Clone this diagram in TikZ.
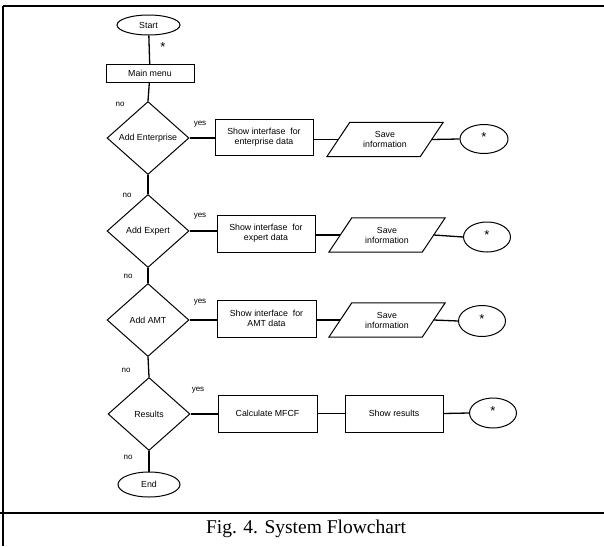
\documentclass[tikz,border=0pt]{standalone}
\usepackage{fontspec}
\setmainfont{Liberation Sans}
\newfontfamily\capfont{Liberation Serif}
\usetikzlibrary{shapes.geometric}
\begin{document}
\begin{tikzpicture}[x=1pt,y=-1pt,
  every node/.style={font=\fontsize{8.8}{10}\selectfont, align=center},
  line/.style={line width=1.3pt},
  term/.style={draw, line width=1pt, ellipse, inner sep=0pt},
  proc/.style={draw, line width=1pt, rectangle, inner sep=0pt},
  decide/.style={draw, line width=1pt, diamond, inner sep=0pt, shape aspect=1.13, minimum width=82pt, minimum height=73pt},
  iobox/.style={rectangle, inner sep=0pt, minimum width=93pt, minimum height=34pt},
  conn/.style={term, font=\fontsize{13}{13}\selectfont},
  lbl/.style={font=\fontsize{8}{9}\selectfont, inner sep=0pt},
  frame/.style={line width=2pt}
]
\useasboundingbox (0,0) rectangle (604,546);
% frame
\draw[frame] (3,6) -- (604,6);
\draw[frame] (3,6) -- (3,546);
\draw[frame] (0,513) -- (604,513);
\node[font=\capfont\fontsize{19.5}{21}\selectfont] (cap) at (306,529) {Fig. 4. System Flowchart};

% main column
\node[term, minimum width=63pt, minimum height=20pt] (start) at (148.5,25) {Start};
\node[proc, minimum width=88pt, minimum height=18pt] (menu) at (150,73.5) {Main menu};
\node[decide] (d1) at (148,138) {Add Enterprise};
\node[decide] (d2) at (148,231) {Add Expert};
\node[decide] (d3) at (148,320) {Add AMT};
\node[decide] (d4) at (149,414) {Results};
\node[term, minimum width=62pt, minimum height=25pt] (end) at (149,484.5) {End};

% row 1
\node[proc, minimum width=98pt, minimum height=36pt] (b1) at (264,137) {Show interfase\ \ for\\enterprise data};
\node[iobox] (p1) at (385,139.5) {Save\\information};
\node[conn, minimum width=48pt, minimum height=29pt] (c1) at (484,139) {\raisebox{3pt}{*}};
% row 2
\node[proc, minimum width=98pt, minimum height=37pt] (b2) at (266,233.5) {Show interfase\ \ for\\expert data};
\node[iobox] (p2) at (387,235) {Save\\information};
\node[conn, minimum width=47pt, minimum height=30pt] (c2) at (487,237) {\raisebox{3pt}{*}};
% row 3
\node[proc, minimum width=99pt, minimum height=37pt] (b3) at (266.5,318.5) {Show interface\ \ for\\AMT data};
\node[iobox] (p3) at (387,320) {Save\\information};
\node[conn, minimum width=47pt, minimum height=31pt] (c3) at (482,321) {\raisebox{3pt}{*}};
% row 4
\node[proc, minimum width=99pt, minimum height=37pt] (b4) at (267.5,413.5) {Calculate MFCF};
\node[proc, minimum width=98pt, minimum height=37pt] (b5) at (394,413.5) {Show results};
\node[conn, minimum width=47pt, minimum height=30pt] (c4) at (493,413) {\raisebox{3pt}{*}};

% parallelograms
\foreach \p in {p1,p2,p3}{
  \draw[line width=1pt] ([xshift=11.5pt]\p.north west) -- ([xshift=11.5pt]\p.north east)
    -- ([xshift=-11.5pt]\p.south east) -- ([xshift=-11.5pt]\p.south west) -- cycle;
}

% vertical connectors
\draw[line] (start) -- (menu);
\draw[line] (menu) -- (d1.north);
\draw[line] (d1.south) -- (d2.north);
\draw[line] (d2.south) -- (d3.north);
\draw[line] (d3.south) -- (d4.north);
\draw[line] (d4.south) -- (end);

% horizontal connectors
\draw[line] (d1.east) -- (b1.west |- d1.east);
\draw[line] (b1.east |- p1.west) -- (p1.west);
\draw[line] (p1.east) -- (c1.west);
\draw[line] (d2.east) -- (b2.west |- d2.east);
\draw[line] (b2.east |- p2.west) -- (p2.west);
\draw[line] (p2.east) -- (c2.west);
\draw[line] (d3.east) -- (b3.west |- d3.east);
\draw[line] (b3.east |- p3.west) -- (p3.west);
\draw[line] (p3.east) -- (c3.west);
\draw[line] (d4.east) -- (b4.west |- d4.east);
\draw[line] (b4.east) -- (b5.west);
\draw[line] (b5.east) -- (c4.west);

% labels
\node[font=\fontsize{13}{13}\selectfont, inner sep=0pt] (star) at (163,47) {*};
\node[lbl] (n0) at (120,104) {no};
\node[lbl] (y1) at (200,124) {yes};
\node[lbl] (n1) at (127,195) {no};
\node[lbl] (y2) at (200,216) {yes};
\node[lbl] (n2) at (128,276) {no};
\node[lbl] (y3) at (200,302) {yes};
\node[lbl] (n3) at (126,370) {no};
\node[lbl] (y4) at (198,390) {yes};
\node[lbl] (n4) at (128,457) {no};
\end{tikzpicture}
\end{document}
